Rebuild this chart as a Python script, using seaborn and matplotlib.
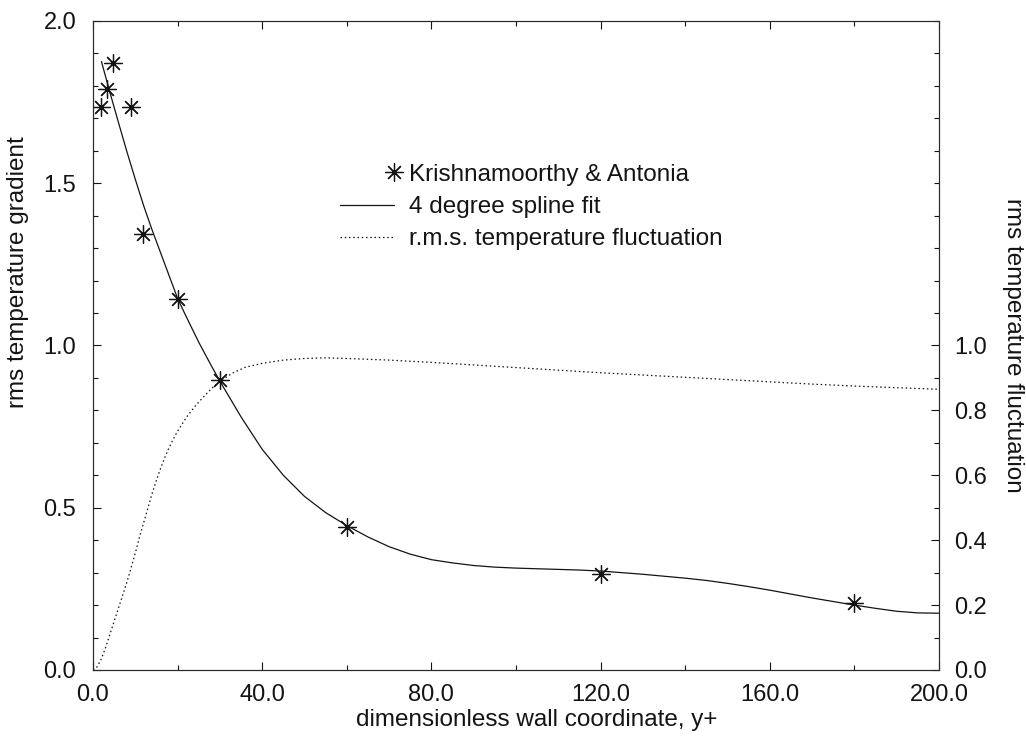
import matplotlib
matplotlib.use("Agg")
import matplotlib.pyplot as plt
import seaborn as sns
from matplotlib.ticker import MultipleLocator, FixedLocator, FormatStrFormatter
from matplotlib.legend_handler import HandlerLine2D

# Measured rms temperature gradient (Krishnamoorthy & Antonia)
meas_y_plus = [1.9, 3.2, 4.8, 8.9, 11.8, 20.0, 30.0, 60.0, 120.0, 180.0]
meas_gradient = [1.735, 1.79, 1.872, 1.735, 1.343, 1.142, 0.894, 0.442, 0.295, 0.206]

# 4 degree spline fit of the gradient
fit_y_plus = [2, 4, 6, 8, 10, 12, 14, 16, 18, 20, 22, 25, 28, 30, 35, 40, 45, 50,
              55, 60, 65, 70, 75, 80, 85, 90, 95, 100, 105, 110, 115, 120, 125,
              130, 135, 140, 145, 150, 155, 160, 165, 170, 175, 180, 185, 190,
              195, 200]
fit_gradient = [1.875, 1.78, 1.688, 1.598, 1.512, 1.43, 1.355, 1.285, 1.215,
                1.145, 1.09, 1.01, 0.937, 0.89, 0.78, 0.68, 0.60, 0.535, 0.485,
                0.445, 0.41, 0.38, 0.357, 0.34, 0.33, 0.322, 0.317, 0.314, 0.312,
                0.31, 0.308, 0.305, 0.30, 0.295, 0.289, 0.283, 0.276, 0.267,
                0.257, 0.246, 0.234, 0.222, 0.211, 0.20, 0.19, 0.181, 0.176,
                0.175]

# r.m.s. temperature fluctuation
fluct_y_plus = [0, 1, 2, 3, 4, 5, 6, 7, 8, 9, 10, 11, 12, 13, 14, 15, 16, 17, 18,
                19, 20, 22, 24, 26, 28, 30, 33, 36, 40, 45, 50, 55, 60, 70, 80,
                90, 100, 110, 120, 130, 140, 150, 160, 170, 180, 190, 200]
fluct_rms = [0.0, 0.01, 0.035, 0.07, 0.11, 0.15, 0.19, 0.23, 0.27, 0.315, 0.36,
             0.41, 0.455, 0.50, 0.545, 0.585, 0.622, 0.656, 0.686, 0.712, 0.736,
             0.777, 0.811, 0.84, 0.867, 0.89, 0.915, 0.933, 0.945, 0.955, 0.96,
             0.962, 0.96, 0.955, 0.948, 0.94, 0.932, 0.924, 0.916, 0.909, 0.902,
             0.895, 0.888, 0.881, 0.875, 0.87, 0.865]

x_major = [0, 40, 80, 120, 160, 200]
left_major = [0.0, 0.5, 1.0, 1.5, 2.0]
right_major = [0.0, 0.2, 0.4, 0.6, 0.8, 1.0]

sns.set_style("ticks")
plt.rcParams["font.family"] = ["Liberation Sans", "DejaVu Sans"]

INK = "#141414"
TICK_FS = 17
LABEL_FS = 17.5

fig = plt.figure(figsize=(10.26, 7.37), dpi=100)
ax = fig.add_axes([0.09064, 0.09091, 0.82456, 0.88060])
ax2 = ax.twinx()

sns.lineplot(x=fit_y_plus, y=fit_gradient, ax=ax, color=INK, lw=0.9,
             label="4 degree spline fit")
sns.lineplot(x=meas_y_plus, y=meas_gradient, ax=ax, color=INK, ls="none",
             marker=(8, 2, 0), ms=13, mew=0.9, mec=INK,
             label="Krishnamoorthy & Antonia")
sns.lineplot(x=fluct_y_plus, y=fluct_rms, ax=ax2, color=INK, lw=0.9,
             ls=(0, (1.2, 2.2)), label="r.m.s. temperature fluctuation")

for a in (ax, ax2):
    a.set_xlim(0, 200)
    a.set_ylim(0, 2.0)
    if a.get_legend() is not None:
        a.get_legend().remove()
    for s in a.spines.values():
        s.set_visible(True)
        s.set_linewidth(0.8)
        s.set_color("#2a2a2a")

# x axis
ax.xaxis.set_major_locator(FixedLocator(x_major))
ax.xaxis.set_minor_locator(MultipleLocator(20))
ax.xaxis.set_major_formatter(FormatStrFormatter("%.1f"))

# left axis
ax.yaxis.set_major_locator(FixedLocator(left_major))
ax.yaxis.set_minor_locator(MultipleLocator(0.1))
ax.yaxis.set_major_formatter(FormatStrFormatter("%.1f"))

# right axis
ax2.yaxis.set_major_locator(FixedLocator(right_major))
ax2.yaxis.set_minor_locator(MultipleLocator(0.1))
ax2.yaxis.set_major_formatter(FormatStrFormatter("%.1f"))

ax.tick_params(axis="x", which="both", direction="in", top=True, bottom=True,
               labelsize=TICK_FS, pad=10, colors=INK, width=0.8)
ax.tick_params(axis="y", which="both", direction="in", left=True, right=False,
               labelsize=TICK_FS, pad=12, colors=INK, width=0.8)
ax2.tick_params(axis="y", which="both", direction="in", right=True, left=False,
                labelsize=TICK_FS, pad=11, colors=INK, width=0.8)
for a in (ax, ax2):
    a.tick_params(which="major", length=6)
    a.tick_params(which="minor", length=3.5)

ax.set_xlabel("dimensionless wall coordinate, y+", fontsize=LABEL_FS,
              color=INK, va="center")
ax.xaxis.set_label_coords(0.525, -0.077)
ax.set_ylabel("rms temperature gradient", fontsize=LABEL_FS, color=INK,
              va="center")
ax.yaxis.set_label_coords(-0.0887, 0.613)
ax2.set_ylabel("rms temperature fluctuation", fontsize=LABEL_FS, color=INK,
               rotation=270, va="center")
ax2.yaxis.set_label_coords(1.0875, 0.50)


class MarkerAtEnd(HandlerLine2D):
    """Single legend marker placed at the right end of the handle."""

    def get_xdata(self, legend, xdescent, ydescent, width, height, fontsize):
        end = -xdescent + width
        return [end, end], [end]


h_fit, h_meas = ax.get_lines()[0], ax.get_lines()[1]
h_fluct = ax2.get_lines()[0]
leg = ax2.legend(
    [h_meas, h_fit, h_fluct],
    ["Krishnamoorthy & Antonia", "4 degree spline fit",
     "r.m.s. temperature fluctuation"],
    handler_map={h_meas: MarkerAtEnd(numpoints=1)},
    loc="upper left", bbox_to_anchor=(0.292, 0.780), frameon=False,
    fontsize=LABEL_FS, handlelength=2.2, handletextpad=0.65,
    labelspacing=0.42, borderpad=0.0, borderaxespad=0.0,
)
for t in leg.get_texts():
    t.set_color(INK)

fig.savefig("out.png", dpi=100)
